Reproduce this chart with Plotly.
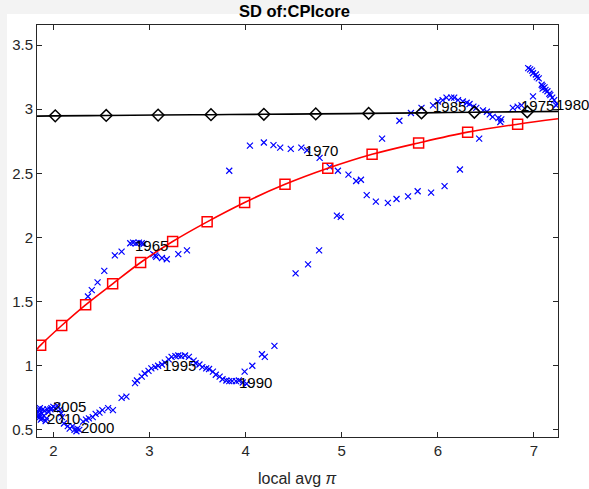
import plotly.graph_objects as go

# Blue scatter (local avg pi vs SD), roughly in time order
blue_x = [2.36, 2.40, 2.46, 2.53, 2.64, 2.71, 2.80, 2.83, 2.86, 2.89, 2.92, 2.94, 3.04, 3.06, 3.07, 3.13, 3.18, 3.30, 3.39,
          3.83, 4.045, 4.19, 4.29, 4.36, 4.47, 4.58, 4.64, 4.77, 4.875, 4.96, 5.07, 5.15, 5.20, 5.26, 5.355, 5.48, 5.57, 5.69,
          5.79, 5.93, 6.07, 6.23, 6.43, 6.65, 6.78, 6.83, 6.87, 6.99, 6.94, 6.96, 6.98, 6.99, 7.02, 7.03, 7.05, 7.08, 7.09,
          7.09, 7.11, 7.12, 7.14, 7.16, 7.17, 7.19, 7.21, 7.23, 7.24,
          6.66, 6.63, 6.57, 6.54, 6.51, 6.47, 6.40, 6.37, 6.33, 6.30, 6.26, 6.21, 6.17, 6.14, 6.09, 6.05, 6.00, 5.95, 5.83,
          5.72, 5.60, 5.42, 4.99, 4.95, 4.765, 4.65, 4.52, 4.30, 4.20, 4.17, 4.07, 3.99, 4.01, 3.97,
          3.93, 3.90, 3.86, 3.83, 3.80, 3.76, 3.73, 3.69, 3.66, 3.62, 3.59, 3.55, 3.52, 3.48, 3.46, 3.41, 3.37, 3.33, 3.30,
          3.27, 3.23, 3.20, 3.16, 3.13, 3.09, 3.06, 3.02, 2.99, 2.95, 2.92, 2.87, 2.85, 2.76, 2.71, 2.62, 2.57, 2.51, 2.48,
          2.44, 2.41, 2.37, 2.34, 2.31,
          2.27, 2.25, 2.24, 2.22, 2.20, 2.17, 2.15, 2.11, 2.09, 2.08, 2.07, 2.04, 2.02, 2.00, 1.98, 1.97, 1.95, 1.94, 1.93,
          1.92, 1.91, 1.90, 1.89, 1.88, 1.88, 1.87, 1.86, 1.86, 1.85, 1.84, 1.84, 1.85]
blue_y = [1.54, 1.59, 1.65, 1.74, 1.86, 1.89, 1.955, 1.96, 1.955, 1.96, 1.955, 1.95, 1.87, 1.86, 1.85, 1.84, 1.83, 1.87, 1.90,
          2.52, 2.716, 2.74, 2.72, 2.70, 2.69, 2.70, 2.68, 2.62, 2.55, 2.52, 2.49, 2.44, 2.45, 2.33, 2.28, 2.27, 2.30, 2.32,
          2.36, 2.35, 2.40, 2.53, 2.77, 2.90, 3.01, 3.02, 3.03, 3.10, 3.32, 3.31, 3.30, 3.28, 3.27, 3.25, 3.24, 3.19, 3.18,
          3.16, 3.17, 3.15, 3.14, 3.12, 3.11, 3.09, 3.07, 3.03, 3.04,
          2.92, 2.93, 2.94, 2.96, 2.98, 2.99, 3.01, 3.02, 3.04, 3.05, 3.06, 3.07, 3.09, 3.09, 3.09, 3.07, 3.06, 3.03, 3.01,
          2.97, 2.91, 2.77, 2.16, 2.17, 1.90, 1.79, 1.72, 1.155, 1.07, 1.09, 1.00, 0.955, 0.86, 0.87,
          0.885, 0.88, 0.88, 0.88, 0.885, 0.895, 0.915, 0.93, 0.955, 0.975, 0.98, 0.99, 1.01, 1.02, 1.04, 1.07, 1.08, 1.075, 1.08,
          1.075, 1.07, 1.05, 1.025, 1.01, 1.00, 0.99, 0.98, 0.96, 0.94, 0.915, 0.885, 0.865, 0.76, 0.75, 0.655, 0.67, 0.655, 0.635,
          0.625, 0.60, 0.59, 0.58, 0.565,
          0.50, 0.51, 0.49, 0.50, 0.53, 0.51, 0.53, 0.55, 0.60, 0.63, 0.66, 0.69, 0.67, 0.68, 0.67, 0.66, 0.64, 0.66, 0.59,
          0.57, 0.65, 0.61, 0.66, 0.63, 0.59, 0.58, 0.60, 0.67, 0.62, 0.64, 0.60, 0.66]

# Red fitted curve (line points) and its square markers
red_line_x = [1.83, 1.868, 2.087, 2.336, 2.617, 2.908, 3.241, 3.60, 3.99, 4.41, 4.855, 5.316, 5.80, 6.31, 6.83, 7.25]
red_line_y = [1.13, 1.161, 1.314, 1.475, 1.639, 1.805, 1.969, 2.122, 2.273, 2.414, 2.539, 2.648, 2.737, 2.821, 2.883, 2.925]
red_mark_x = [1.868, 2.087, 2.336, 2.617, 2.908, 3.241, 3.60, 3.99, 4.41, 4.855, 5.316, 5.80, 6.31, 6.83]
red_mark_y = [1.161, 1.314, 1.475, 1.639, 1.805, 1.969, 2.122, 2.273, 2.414, 2.539, 2.648, 2.737, 2.821, 2.883]

# Black (nearly flat) curve and its diamond markers
blk_line_x = [1.83, 2.02, 2.55, 3.09, 3.64, 4.19, 4.73, 5.28, 5.83, 6.38, 6.93, 7.25]
blk_line_y = [2.946, 2.948, 2.951, 2.954, 2.957, 2.960, 2.963, 2.967, 2.971, 2.976, 2.980, 2.983]
blk_mark_x = [2.02, 2.55, 3.09, 3.64, 4.19, 4.73, 5.28, 5.83, 6.38, 6.93]
blk_mark_y = [2.948, 2.951, 2.954, 2.957, 2.960, 2.963, 2.967, 2.971, 2.976, 2.980]

# Year labels
lab_text = ["1965", "1970", "1975", "1980", "1985", "1990", "1995", "2000", "2005", "2010"]
lab_x = [2.85, 4.62, 6.87, 7.23, 5.95, 3.93, 3.14, 2.29, 2.00, 1.93]
lab_y = [1.94, 2.68, 3.03, 3.04, 3.02, 0.87, 1.00, 0.52, 0.68, 0.59]

x_ticks = [2, 3, 4, 5, 6, 7]
y_ticks = [0.5, 1, 1.5, 2, 2.5, 3, 3.5]

FONT = "Liberation Sans, Arial, Helvetica, sans-serif"

fig = go.Figure()
fig.add_trace(go.Scatter(x=blue_x, y=blue_y, mode="markers",
                         marker=dict(symbol="x-thin", size=6, line=dict(color="#0000ff", width=1.2)),
                         hoverinfo="skip", showlegend=False))
fig.add_trace(go.Scatter(x=red_line_x, y=red_line_y, mode="lines", line=dict(color="#ff0000", width=1.6, shape="spline"),
                         showlegend=False, hoverinfo="skip"))
fig.add_trace(go.Scatter(x=red_mark_x, y=red_mark_y, mode="markers",
                         marker=dict(symbol="square-open", size=10, color="#ff0000", line=dict(width=1.5, color="#ff0000")),
                         showlegend=False, hoverinfo="skip"))
fig.add_trace(go.Scatter(x=blk_line_x, y=blk_line_y, mode="lines", line=dict(color="#000000", width=1.6, shape="spline"),
                         showlegend=False, hoverinfo="skip"))
fig.add_trace(go.Scatter(x=blk_mark_x, y=blk_mark_y, mode="markers",
                         marker=dict(symbol="diamond-open", size=9, color="#000000", line=dict(width=1.5, color="#000000")),
                         showlegend=False, hoverinfo="skip"))

for t, x, y in zip(lab_text, lab_x, lab_y):
    fig.add_annotation(x=x, y=y, text=t, showarrow=False, xanchor="left", yanchor="middle",
                       xshift=-2, font=dict(family=FONT, size=15, color="#000000"))

# x-axis title as an annotation so the plot area is not shrunk
fig.add_annotation(x=0.5, y=0, xref="paper", yref="paper", text="local avg <i>π</i>", showarrow=False,
                   xanchor="center", yanchor="middle", yshift=-41,
                   font=dict(family=FONT, size=16, color="#262626"))

axis_common = dict(showline=True, linecolor="#262626", linewidth=1, mirror="ticks", ticks="inside",
                   ticklen=5, tickcolor="#262626", showgrid=False, zeroline=False, automargin=False,
                   tickfont=dict(family=FONT, size=15, color="#262626"))

fig.update_layout(
    width=589, height=489,
    margin=dict(l=37, r=31, t=25, b=52),
    paper_bgcolor="#ffffff", plot_bgcolor="#ffffff",
    title=dict(text="<b>SD of:CPIcore</b>", x=0.5, xanchor="center", y=0.977, yanchor="middle",
               font=dict(family=FONT, size=16.5, color="#000000")),
    xaxis=dict(range=[1.83, 7.25], tickvals=x_ticks, ticktext=[str(v) for v in x_ticks], **axis_common),
    yaxis=dict(range=[0.445, 3.656], tickvals=y_ticks, ticktext=["0.5", "1", "1.5", "2", "2.5", "3", "3.5"],
               **axis_common),
    shapes=[
        dict(type="rect", xref="paper", yref="paper", x0=-0.2, x1=1.2, y0=1.0 + 11 / 412, y1=1.2,
             fillcolor="#f3f3f3", line=dict(width=0), layer="below"),
        dict(type="rect", xref="paper", yref="paper", x0=-37 / 521, x1=-30 / 521, y0=-0.2, y1=1.2,
             fillcolor="#f3f3f3", line=dict(width=0), layer="below"),
    ],
)

fig.write_html("out.html")
